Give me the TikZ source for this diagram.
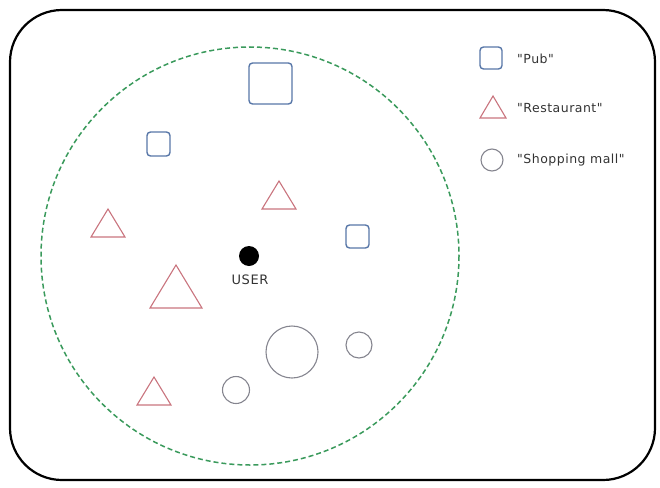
\documentclass[tikz,border=0pt]{standalone}
\usepackage{fontspec}
\setmainfont{DejaVu Sans}[Ligatures=TeXOff,LetterSpace=4]
\definecolor{pubblue}{HTML}{5877A8}
\definecolor{restred}{HTML}{C9747E}
\definecolor{mallgray}{HTML}{85858F}
\definecolor{rangegreen}{HTML}{3A9A5C}
\begin{document}
\begin{tikzpicture}[x=1pt,y=-1pt,
  pub/.style={draw=pubblue,line width=1.4,rounded corners=3.5,fill=white},
  rest/.style={draw=restred,line width=1.1},
  mall/.style={draw=mallgray,line width=1.1},
  lbl/.style={font=\fontsize{12.5}{14}\selectfont,text=black!80,anchor=west,inner sep=0}]
\useasboundingbox (0,0) rectangle (660,487);
% frame
\draw[line width=2.2,rounded corners=52] (10,10) rectangle (655,480);
% search range
\draw[rangegreen,line width=1.5,dash pattern=on 5pt off 3pt] (250,256) circle[radius=209];
% pubs
\draw[pub] (249,63) rectangle (292,104);
\draw[pub] (147,132) rectangle (170,156);
\draw[pub] (346,225) rectangle (369,248);
% restaurants
\draw[rest] (279,181) -- (296,209) -- (262,209) -- cycle;
\draw[rest] (108,209) -- (125,237) -- (91,237) -- cycle;
\draw[rest] (176,265) -- (202,308) -- (150,308) -- cycle;
\draw[rest] (154,377) -- (171,405) -- (137,405) -- cycle;
% shopping malls
\draw[mall] (292,352) circle[radius=26];
\draw[mall] (359,345) circle[radius=13];
\draw[mall] (236,390) circle[radius=13.5];
% user
\node[circle,fill=black,minimum size=20,inner sep=0] (user) at (249,256) {};
\node[font=\fontsize{13}{14}\selectfont,text=black!80,inner sep=0] (userlbl) at (250,280) {USER};
% legend
\draw[pub] (480,47) rectangle (502,69);
\node[lbl] (lpub) at (517,59) {"Pub"};
\draw[rest] (493,96) -- (506,118) -- (480,118) -- cycle;
\node[lbl] (lrest) at (517,108) {"Restaurant"};
\draw[mall] (492,160) circle[radius=11];
\node[lbl] (lmall) at (517,160) {"Shopping mall"};
\end{tikzpicture}
\end{document}
